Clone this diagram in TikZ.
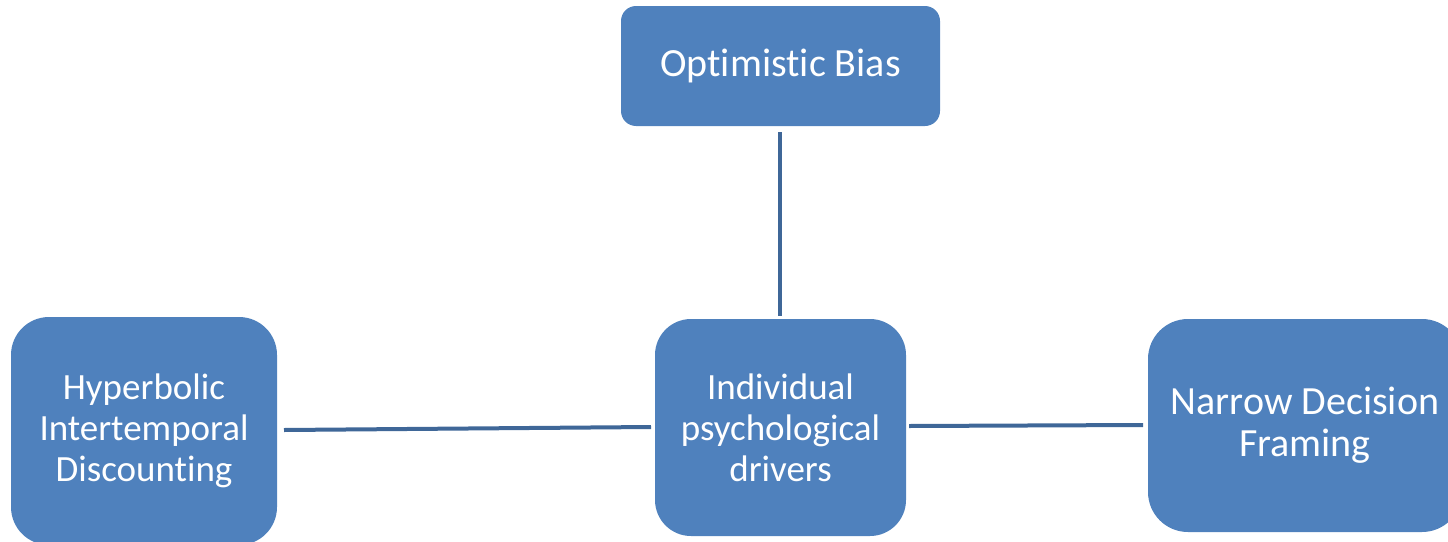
\documentclass[tikz,border=0pt]{standalone}
\usepackage{fontspec}
\setmainfont{Carlito}[Ligatures=NoCommon]
\definecolor{boxfill}{HTML}{4F81BD}
\definecolor{linkcol}{HTML}{3F6798}
\begin{document}
\begin{tikzpicture}[x=1pt,y=-1pt,
  box/.style={draw=none,fill=boxfill,text=white,align=center,inner sep=0pt,
    font=\fontsize{37}{41}\selectfont},
  link/.style={draw=linkcol,line width=4pt}]
\useasboundingbox (0,0) rectangle (1448,541);
\node[box,rounded corners=15pt,minimum width=319pt,minimum height=120pt,font=\fontsize{40}{42}\selectfont] (top) at (780.5,66) {\raisebox{-2pt}{Optimistic Bias}};
\node[box,rounded corners=38pt,minimum width=266pt,minimum height=228pt] (left) at (144,431) {Hyperbolic\\Intertemporal\\Discounting};
\node[box,rounded corners=36pt,minimum width=251pt,minimum height=217pt] (mid) at (780.5,427.5) {Individual\\psychological\\drivers};
\node[box,rounded corners=40pt,minimum width=314pt,minimum height=213pt,font=\fontsize{40}{42}\selectfont] (right) at (1305,425.5) {Narrow Decision\\Framing};
\coordinate (tA) at (780,132);
\coordinate (tB) at (780,316);
\coordinate (lA) at (284,430);
\coordinate (lB) at (651,427);
\coordinate (rA) at (909,426);
\coordinate (rB) at (1143,425);
\draw[link] (tA) -- (tB);
\draw[link] (lA) -- (lB);
\draw[link] (rA) -- (rB);
\end{tikzpicture}
\end{document}
